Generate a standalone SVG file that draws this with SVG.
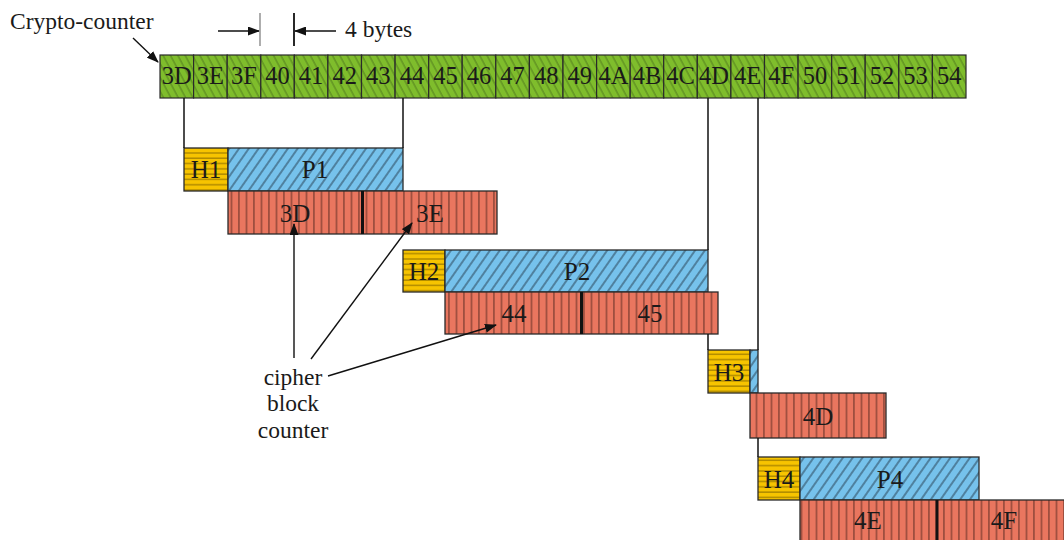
<svg xmlns="http://www.w3.org/2000/svg" width="1064" height="540" viewBox="0 0 1064 540" font-family="'Liberation Serif', 'DejaVu Serif', serif">
<defs>
<style>
text{font-family:'Liberation Serif','DejaVu Serif',serif;fill:#1a1a1a}
.cl{font-size:24.5px;text-anchor:middle}
.bl{font-size:25px;text-anchor:middle}
.lb{font-size:23.5px}
.ln{stroke:#111;stroke-width:1.5;fill:none}
.ar{stroke:#111;stroke-width:1.4;fill:none;marker-end:url(#ah)}
.cell{fill:url(#gp);stroke:#2a2a2a;stroke-width:1.2}
.h{fill:url(#hp);stroke:#2a2a2a;stroke-width:1.3}
.p{fill:url(#pp);stroke:#2a2a2a;stroke-width:1.3}
.r{fill:url(#rp);stroke:#2a2a2a;stroke-width:1.3}
.dv{stroke:#111;stroke-width:3}
</style>
<pattern id="gp" patternUnits="userSpaceOnUse" width="6.5" height="12" patternTransform="rotate(-28)">
<rect width="6.5" height="12" fill="#7fbd2c"/>
<line x1="1" y1="0" x2="1" y2="12" stroke="#2f4a12" stroke-width="0.8" stroke-opacity="0.7"/>
</pattern>
<pattern id="pp" patternUnits="userSpaceOnUse" width="8" height="12" patternTransform="rotate(35)">
<rect width="8" height="12" fill="#76c2ec"/>
<line x1="1" y1="0" x2="1" y2="12" stroke="#1e3140" stroke-width="0.9"/>
</pattern>
<pattern id="hp" patternUnits="userSpaceOnUse" width="10" height="5.3">
<rect width="10" height="5.3" fill="#f7c400"/>
<line x1="0" y1="4.5" x2="10" y2="4.5" stroke="#6a5200" stroke-width="0.8"/>
</pattern>
<pattern id="rp" patternUnits="userSpaceOnUse" width="7.5" height="10">
<rect width="7.5" height="10" fill="#e9765f"/>
<line x1="6.5" y1="0" x2="6.5" y2="10" stroke="#3a1a14" stroke-width="0.8"/>
</pattern>
<marker id="ah" markerWidth="12" markerHeight="9" refX="11" refY="4.5" orient="auto" markerUnits="userSpaceOnUse">
<path d="M0,0 L12,4.5 L0,9 Z" fill="#111"/>
</marker>
</defs>
<rect width="1064" height="540" fill="#fff"/>

<g id="labels">
<text class="lb" x="10" y="29">Crypto-counter</text>
<text class="lb" x="345" y="37">4 bytes</text>
<text class="lb" text-anchor="middle" x="293" y="385">cipher</text>
<text class="lb" text-anchor="middle" x="293" y="411">block</text>
<text class="lb" text-anchor="middle" x="293" y="438">counter</text>
</g>

<g id="counter">
<rect class="cell" x="160" y="55" width="33.6" height="43"/>
<rect class="cell" x="193.6" y="55" width="33.6" height="43"/>
<rect class="cell" x="227.2" y="55" width="33.6" height="43"/>
<rect class="cell" x="260.8" y="55" width="33.5" height="43"/>
<rect class="cell" x="294.3" y="55" width="33.6" height="43"/>
<rect class="cell" x="327.9" y="55" width="33.6" height="43"/>
<rect class="cell" x="361.5" y="55" width="33.6" height="43"/>
<rect class="cell" x="395.1" y="55" width="33.6" height="43"/>
<rect class="cell" x="428.7" y="55" width="33.5" height="43"/>
<rect class="cell" x="462.2" y="55" width="33.6" height="43"/>
<rect class="cell" x="495.8" y="55" width="33.6" height="43"/>
<rect class="cell" x="529.4" y="55" width="33.6" height="43"/>
<rect class="cell" x="563.0" y="55" width="33.6" height="43"/>
<rect class="cell" x="596.6" y="55" width="33.6" height="43"/>
<rect class="cell" x="630.2" y="55" width="33.5" height="43"/>
<rect class="cell" x="663.7" y="55" width="33.6" height="43"/>
<rect class="cell" x="697.3" y="55" width="33.6" height="43"/>
<rect class="cell" x="730.9" y="55" width="33.6" height="43"/>
<rect class="cell" x="764.5" y="55" width="33.6" height="43"/>
<rect class="cell" x="798.1" y="55" width="33.6" height="43"/>
<rect class="cell" x="831.7" y="55" width="33.5" height="43"/>
<rect class="cell" x="865.2" y="55" width="33.6" height="43"/>
<rect class="cell" x="898.8" y="55" width="33.6" height="43"/>
<rect class="cell" x="932.4" y="55" width="33.6" height="43"/>
<text class="cl" x="176.8" y="84">3D</text>
<text class="cl" x="210.4" y="84">3E</text>
<text class="cl" x="244.0" y="84">3F</text>
<text class="cl" x="277.6" y="84">40</text>
<text class="cl" x="311.1" y="84">41</text>
<text class="cl" x="344.7" y="84">42</text>
<text class="cl" x="378.3" y="84">43</text>
<text class="cl" x="411.9" y="84">44</text>
<text class="cl" x="445.5" y="84">45</text>
<text class="cl" x="479.0" y="84">46</text>
<text class="cl" x="512.6" y="84">47</text>
<text class="cl" x="546.2" y="84">48</text>
<text class="cl" x="579.8" y="84">49</text>
<text class="cl" x="613.4" y="84">4A</text>
<text class="cl" x="647.0" y="84">4B</text>
<text class="cl" x="680.5" y="84">4C</text>
<text class="cl" x="714.1" y="84">4D</text>
<text class="cl" x="747.7" y="84">4E</text>
<text class="cl" x="781.3" y="84">4F</text>
<text class="cl" x="814.9" y="84">50</text>
<text class="cl" x="848.5" y="84">51</text>
<text class="cl" x="882.0" y="84">52</text>
<text class="cl" x="915.6" y="84">53</text>
<text class="cl" x="949.2" y="84">54</text>
</g>

<g id="packet1">
<rect class="h" x="184" y="148" width="44" height="43"/>
<rect class="p" x="228" y="148" width="175" height="43"/>
<text class="bl" x="206" y="178">H1</text>
<text class="bl" x="315" y="178">P1</text>
</g>
<g id="cipher1">
<rect class="r" x="228" y="191" width="269" height="43"/>
<line class="dv" x1="362.5" y1="191" x2="362.5" y2="234"/>
<text class="bl" x="295" y="222">3D</text>
<text class="bl" x="430" y="222">3E</text>
</g>

<g id="packet2">
<rect class="h" x="403" y="250" width="42" height="42"/>
<rect class="p" x="445" y="250" width="263" height="42"/>
<text class="bl" x="424" y="280">H2</text>
<text class="bl" x="577" y="280">P2</text>
</g>
<g id="cipher2">
<rect class="r" x="445" y="292" width="273" height="42"/>
<line class="dv" x1="581.5" y1="292" x2="581.5" y2="334"/>
<text class="bl" x="514" y="322">44</text>
<text class="bl" x="650" y="322">45</text>
</g>

<g id="packet3">
<rect class="h" x="708" y="350" width="42" height="43"/>
<rect class="p" x="750" y="350" width="8" height="43"/>
<text class="bl" x="729" y="381">H3</text>
</g>
<g id="cipher3">
<rect class="r" x="750" y="393" width="136" height="45"/>
<text class="bl" x="818" y="425">4D</text>
</g>

<g id="packet4">
<rect class="h" x="758" y="457" width="42" height="43"/>
<rect class="p" x="800" y="457" width="179" height="43"/>
<text class="bl" x="779" y="488">H4</text>
<text class="bl" x="890" y="488">P4</text>
</g>
<g id="cipher4">
<rect class="r" x="800" y="500" width="274" height="45"/>
<line class="dv" x1="937" y1="500" x2="937" y2="545"/>
<text class="bl" x="868" y="529">4E</text>
<text class="bl" x="1004" y="529">4F</text>
</g>

<g id="connectors">
<line class="ln" x1="184" y1="98" x2="184" y2="148"/>
<line class="ln" x1="403" y1="98" x2="403" y2="148"/>
<line class="ln" x1="708" y1="98" x2="708" y2="250"/>
<line class="ln" x1="708" y1="334" x2="708" y2="350"/>
<line class="ln" x1="758" y1="98" x2="758" y2="350"/>
<line class="ln" x1="758" y1="438" x2="758" y2="457"/>
<line class="ar" x1="133" y1="38" x2="158" y2="62"/>
<line class="ar" x1="218" y1="31" x2="259" y2="31"/>
<line class="ar" x1="336" y1="31" x2="295" y2="31"/>
<line x1="260" y1="13" x2="260" y2="46" stroke="#777" stroke-width="1.2"/>
<line x1="294" y1="13" x2="294" y2="46" stroke="#111" stroke-width="1.8"/>
<line class="ar" x1="294" y1="358" x2="294" y2="224"/>
<line class="ar" x1="311" y1="359" x2="412" y2="223"/>
<line class="ar" x1="328" y1="376" x2="496" y2="325"/>
</g>
</svg>
